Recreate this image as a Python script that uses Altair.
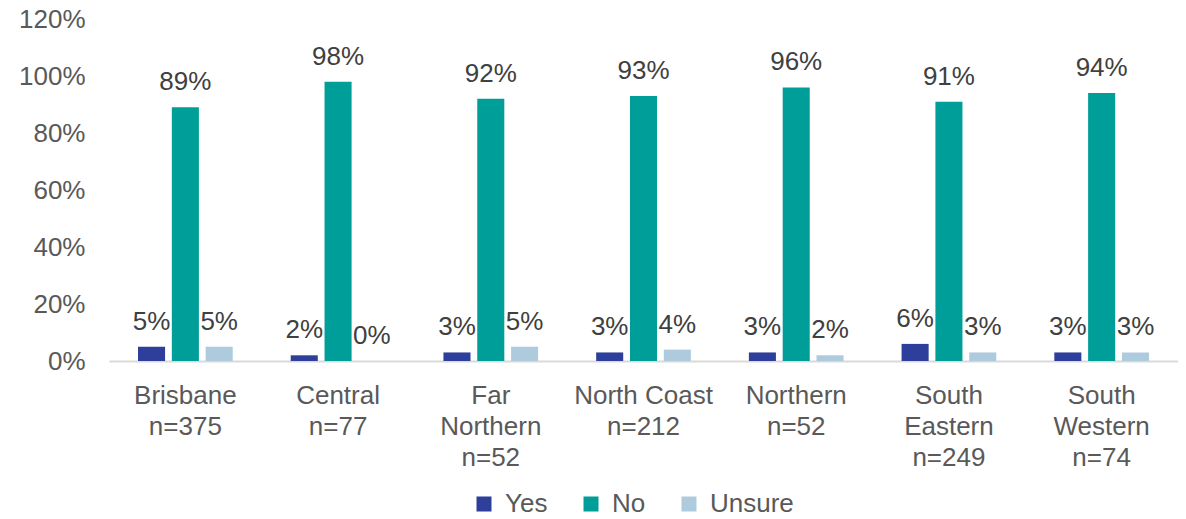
import altair as alt
import pandas as pd

regions = ["Brisbane|n=375", "Central|n=77", "Far|Northern|n=52", "North Coast|n=212",
           "Northern|n=52", "South|Eastern|n=249", "South|Western|n=74"]
series = ["Yes", "No", "Unsure"]
yes = [5, 2, 3, 3, 3, 6, 3]
no = [89, 98, 92, 93, 96, 91, 94]
unsure = [5, 0, 5, 4, 2, 3, 3]
colors = ["#2E3F9B", "#009E98", "#ADCBDD"]

rows = []
for i, r in enumerate(regions):
    for s, vals in zip(series, [yes, no, unsure]):
        rows.append({"region": r, "series": s, "value": vals[i] / 100.0,
                     "label": f"{vals[i]}%"})
df = pd.DataFrame(rows)

FONT = "Liberation Sans"
FS = 26

x = alt.X("region:N", sort=regions, title=None,
          scale=alt.Scale(paddingInner=0.38, paddingOuter=0.19),
          axis=alt.Axis(labelExpr="split(datum.label, '|')", labelAngle=0,
                        labelFontSize=FS, labelColor="#595959", labelFont=FONT,
                        labelLineHeight=31, labelPadding=21, ticks=False,
                        domainColor="#D9D9D9", domainWidth=2, labelLimit=300))
xo = alt.XOffset("series:N", sort=series,
                 scale=alt.Scale(paddingInner=0.2, paddingOuter=0))
y = alt.Y("value:Q", title=None,
          scale=alt.Scale(domain=[0, 1.2], nice=False, zero=True),
          axis=alt.Axis(format=".0%", values=[0, 0.2, 0.4, 0.6, 0.8, 1.0, 1.2],
                        grid=False, domain=False, ticks=False, labelFontSize=FS,
                        labelColor="#595959", labelFont=FONT, labelPadding=24))

bars = alt.Chart(df).mark_bar().encode(
    x=x, xOffset=xo, y=y,
    color=alt.Color("series:N", sort=series,
                    scale=alt.Scale(domain=series, range=colors),
                    legend=alt.Legend(title=None, orient="none", direction="horizontal",
                                      legendX=362, legendY=472,
                                      symbolType="square", symbolSize=225,
                                      symbolStrokeWidth=0, labelFontSize=FS,
                                      labelColor="#595959", labelFont=FONT,
                                      labelOffset=8, columnPadding=30))
)

labels = alt.Chart(df).mark_text(fontSize=FS, font=FONT, color="#404040",
                                 baseline="alphabetic", dy=-17).encode(
    x=alt.X("region:N", sort=regions), xOffset=xo, y="value:Q", text="label:N"
)

chart = (bars + labels).properties(
    width=1069, height=342,
    autosize=alt.AutoSizeParams(type="none"),
    padding={"left": 101, "top": 11, "right": 0, "bottom": 155},
).configure_view(stroke=None)

chart.save("out.html", embed_options={"renderer": "svg", "actions": False})
